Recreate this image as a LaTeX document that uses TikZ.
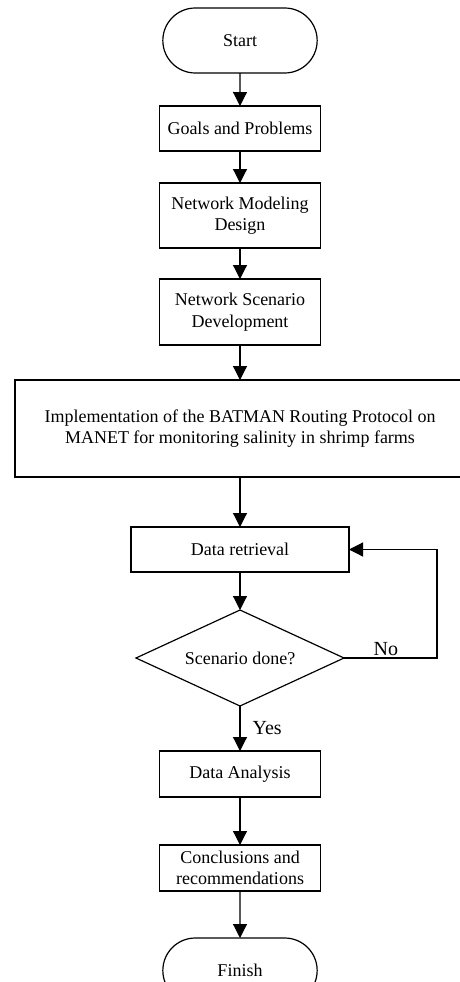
\documentclass[tikz,border=0pt]{standalone}
\usepackage{fontspec}
\setmainfont{Liberation Serif}
\usetikzlibrary{positioning,arrows.meta,shapes.misc,shapes.geometric}

\begin{document}
\begin{tikzpicture}[
  >={Triangle[length=14pt,width=14pt]},
  font=\fontsize{18}{21.5}\selectfont,
  terminal/.style ={draw,line width=1.2pt,rounded rectangle,align=center,
                    minimum width=161pt,minimum height=65pt,outer sep=0pt},
  process/.style  ={draw,line width=1.2pt,align=center,inner sep=2pt,
                    minimum width=161pt,minimum height=45pt,outer sep=0pt},
  decision/.style ={draw,line width=1.2pt,diamond,aspect=2.17,align=center,
                    inner sep=0pt,minimum width=208pt,minimum height=96pt,
                    outer sep=0pt},
  answer/.style   ={font=\fontsize{20}{24}\selectfont,inner sep=2pt},
  link/.style     ={->,line width=1.2pt}]

\useasboundingbox (0,0) rectangle (460pt,-982pt);

% --- start and preparation steps ---
\node[terminal] (start) at (240pt,-40.5pt) {Start};
\node[process,below=33pt of start] (goals) {Goals and Problems};
\node[process,below=32pt of goals,minimum height=65pt] (model)
  {Network Modeling\\Design};
\node[process,below=31pt of model,minimum height=66pt] (scenario)
  {Network Scenario\\Development};

% --- the implementation itself ---
\node[process,below=35pt of scenario,minimum width=450pt,minimum height=97pt] (impl)
  {Implementation of the BATMAN Routing Protocol on\\
   MANET for monitoring salinity in shrimp farms};

% --- data loop ---
\node[process,below=50pt of impl,minimum width=218pt] (retrieval) {Data retrieval};
\node[decision,below=38pt of retrieval] (done) {Scenario done?};

% --- closing steps ---
\node[process,below=45pt of done,minimum height=46pt] (analysis) {Data Analysis};
\node[process,below=48pt of analysis,minimum height=46pt] (concl)
  {Conclusions and\\recommendations};
\node[terminal,below=47pt of concl] (finish) {Finish};

\draw[link] (start) -- (goals);
\draw[link] (goals) -- (model);
\draw[link] (model) -- (scenario);
\draw[link] (scenario) -- (impl);
\draw[link] (impl) -- (retrieval);
\draw[link] (retrieval) -- (done);
\draw[link] (done.south) -- node[answer,right,pos=0.5,xshift=10pt]{Yes} (analysis.north);
\draw[link] (done.east) -- node[answer,above,pos=0.45]{No} ++(93pt,0) |- (retrieval.east);
\draw[link] (analysis) -- (concl);
\draw[link] (concl) -- (finish);

\end{tikzpicture}
\end{document}
